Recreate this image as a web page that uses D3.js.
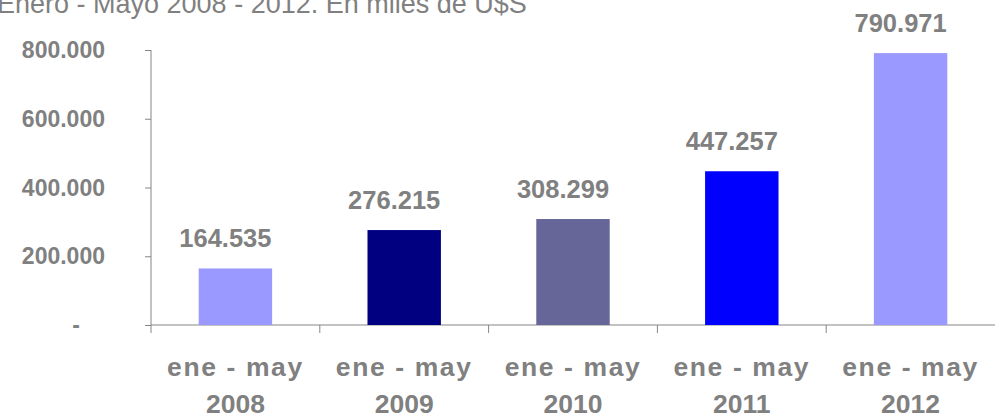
<!DOCTYPE html>
<html>
<head>
<meta charset="utf-8">
<script src="https://cdn.jsdelivr.net/npm/d3@7"></script>
<style>
  body { margin: 0; background: #fff; }
  svg { display: block; }
  text { font-family: "Liberation Sans", Arial, sans-serif; fill: #808080; }
</style>
</head>
<body>
<div id="chart"></div>
<script>
const title = "Enero - Mayo 2008 - 2012. En miles de U$S";
const categories = ["ene - may 2008", "ene - may 2009", "ene - may 2010", "ene - may 2011", "ene - may 2012"];
const values = [164535, 276215, 308299, 447257, 790971];
const colors = ["#9999ff", "#000080", "#666699", "#0000ff", "#9999ff"];
const yTicks = [0, 200000, 400000, 600000, 800000];

const width = 998, height = 414;
const margin = { top: 50, right: 3, bottom: 89, left: 151 };
const axisColor = "#868686";

const svg = d3.select("#chart")
  .append("svg")
  .attr("width", width)
  .attr("height", height);

// title, cut at the top like the original
svg.append("text")
  .attr("x", -3)
  .attr("y", 13)
  .style("font-size", "27px")
  .text(title);

const x = d3.scaleBand()
  .domain(categories)
  .range([margin.left, width - margin.right])
  .padding(0);

const y = d3.scaleLinear()
  .domain([0, 800000])
  .range([height - margin.bottom, margin.top]);

const fmt = v => v === 0 ? "-" : d3.format(",")(v).replace(/,/g, ".");

// y axis
const yAxis = svg.append("g")
  .attr("transform", `translate(${margin.left},0)`)
  .call(d3.axisLeft(y).tickValues(yTicks).tickSize(6).tickPadding(0).tickFormat(() => ""));
yAxis.select(".domain").remove();
yAxis.selectAll("line").attr("stroke", axisColor);
yAxis.append("line")
  .attr("x1", 0).attr("x2", 0)
  .attr("y1", y(800000)).attr("y2", y(0) + 8)
  .attr("stroke", axisColor);

svg.append("g").selectAll("text")
  .data(yTicks)
  .join("text")
  .attr("x", d => d === 0 ? 80 : 105)
  .attr("y", d => y(d) + 8)
  .attr("text-anchor", "end")
  .style("font-size", "23px")
  .style("font-weight", "bold")
  .text(fmt);

// x axis
const bounds = categories.map(c => x(c)).concat([x(categories[categories.length - 1]) + x.bandwidth()]);
const xAxis = svg.append("g");
xAxis.append("line")
  .attr("x1", margin.left).attr("x2", width - margin.right)
  .attr("y1", y(0)).attr("y2", y(0))
  .attr("stroke", axisColor);
xAxis.selectAll("line.tick")
  .data(bounds.slice(1, -1))
  .join("line")
  .attr("class", "tick")
  .attr("x1", d => d).attr("x2", d => d)
  .attr("y1", y(0)).attr("y2", y(0) + 8)
  .attr("stroke", axisColor);

// bars
const barW = x.bandwidth() * 0.435;
svg.append("g").selectAll("rect")
  .data(values)
  .join("rect")
  .attr("x", (d, i) => x(categories[i]) + (x.bandwidth() - barW) / 2)
  .attr("y", d => y(d))
  .attr("width", barW)
  .attr("height", d => y(0) - y(d))
  .attr("fill", (d, i) => colors[i]);

// value labels (sit a little left of the bar centre, as in the original)
svg.append("g").selectAll("text")
  .data(values)
  .join("text")
  .attr("x", (d, i) => x(categories[i]) + x.bandwidth() / 2 - 10)
  .attr("y", d => y(d) - 21)
  .attr("text-anchor", "middle")
  .style("font-size", "25.5px")
  .style("font-weight", "bold")
  .text(fmt);

// category labels, two lines
const catLabels = svg.append("g").selectAll("text")
  .data(categories)
  .join("text")
  .attr("text-anchor", "middle")
  .style("font-size", "26.5px")
  .style("font-weight", "bold");
catLabels.append("tspan")
  .attr("x", d => x(d) + x.bandwidth() / 2)
  .attr("y", 376)
  .style("letter-spacing", "1.6px")
  .text(d => d.slice(0, 9));
catLabels.append("tspan")
  .attr("x", d => x(d) + x.bandwidth() / 2)
  .attr("y", 413)
  .text(d => d.slice(10));
</script>
</body>
</html>
